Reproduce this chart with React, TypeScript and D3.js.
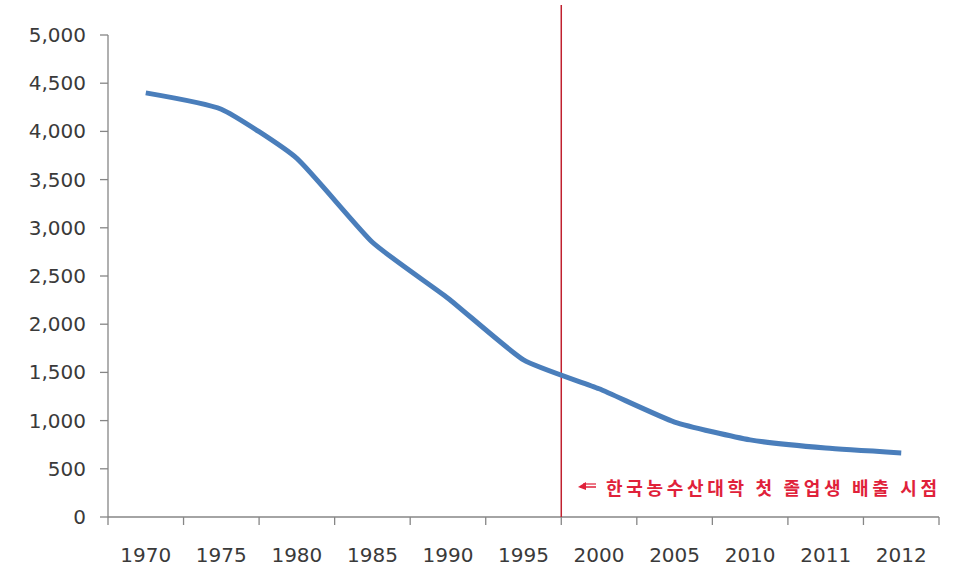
import React from "react";
import * as d3 from "d3";

const categories = ["1970", "1975", "1980", "1985", "1990", "1995", "2000", "2005", "2010", "2011", "2012"];
const values = [4400, 4230, 3720, 2850, 2270, 1630, 1330, 985, 800, 715, 665];
const yTicks = [0, 500, 1000, 1500, 2000, 2500, 3000, 3500, 4000, 4500, 5000];
const markerCategory = "2000";
const annotation = "한국농수산대학 첫 졸업생 배출 시점";

const W = 955;
const H = 580;
const left = 108;
const right = 939;
const top = 35;
const bottom = 517;

export default function App() {
  const x = d3.scaleBand<string>().domain(categories).range([left, right]).padding(0);
  const y = d3.scaleLinear().domain([0, 5000]).range([bottom, top]);
  const fmt = d3.format(",");
  const pts: [number, number][] = categories.map((c, i) => [x(c)! + x.bandwidth() / 2, y(values[i])]);
  const line = d3.line().curve(d3.curveCardinal.tension(0.5))(pts) || "";
  const boundaries = categories.map((c) => x(c)!).concat([right]);
  const mx = x(markerCategory)!;
  const axisColor = "#868686";
  const font = "'DejaVu Sans', Verdana, sans-serif";
  const red = "#e0213a";

  return (
    <svg width={W} height={H} style={{ position: "absolute", left: 0, top: 0, background: "#fff" }}>
      <rect x={0} y={0} width={W} height={H} fill="#fff" />
      {/* y axis */}
      <line x1={left} x2={left} y1={top} y2={bottom} stroke={axisColor} strokeWidth={1.3} />
      {yTicks.map((t) => (
        <g key={t}>
          <line x1={left - 8} x2={left} y1={y(t)} y2={y(t)} stroke={axisColor} strokeWidth={1.3} />
          <text x={86} y={y(t)} textAnchor="end" dominantBaseline="central" fontFamily={font} fontSize={20} fill="#3a3a3a">
            {fmt(t)}
          </text>
        </g>
      ))}
      {/* x axis */}
      <line x1={left} x2={right} y1={bottom} y2={bottom} stroke={axisColor} strokeWidth={1.3} />
      {boundaries.map((b, i) => (
        <line key={i} x1={b} x2={b} y1={bottom} y2={bottom + 8} stroke={axisColor} strokeWidth={1.3} />
      ))}
      {categories.map((c) => (
        <text key={c} x={x(c)! + x.bandwidth() / 2} y={555} textAnchor="middle" dominantBaseline="central" fontFamily={font} fontSize={20} fill="#3a3a3a">
          {c}
        </text>
      ))}
      {/* marker line */}
      <line x1={mx} x2={mx} y1={5} y2={bottom} stroke="#c0202e" strokeWidth={1.5} />
      {/* series */}
      <path d={line} fill="none" stroke="#4a7ebb" strokeWidth={5} strokeLinejoin="round" strokeLinecap="butt" />
      {/* annotation */}
      <g>
        <line x1={580} x2={596} y1={487} y2={487} stroke={red} strokeWidth={1.5} />
        <line x1={583} x2={596} y1={484} y2={484} stroke={red} strokeWidth={1.2} />
        <path d="M578,487 L586,482 L586,490 Z" fill={red} />
        <text x={606} y={487} dominantBaseline="central" fontFamily="'Noto Sans CJK KR', sans-serif" fontWeight="bold" fontSize={18} fill={red} textLength={331} lengthAdjust="spacing">
          {annotation}
        </text>
      </g>
    </svg>
  );
}
